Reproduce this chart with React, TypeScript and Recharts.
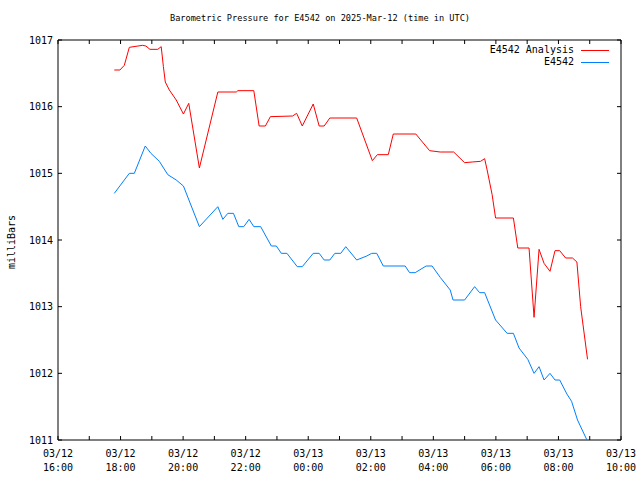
import React from "react";
import { LineChart, Line, XAxis, YAxis } from "recharts";

// Hours since 2025-03-12 00:00 UTC
const analysisHours = [
  17.8, 17.98, 18.12, 18.28, 18.7, 18.81, 18.94, 19.19, 19.3, 19.37, 19.43, 19.56, 19.78,
  20.01, 20.18, 20.52, 21.11, 21.7, 21.75, 22.26, 22.43, 22.63, 22.79, 23.5, 23.63, 23.81,
  24.16, 24.35, 24.51, 24.69, 25.55, 26.05, 26.21, 26.56, 26.72, 27.44, 27.88, 28.22, 28.65,
  29.0, 29.24, 29.51, 29.64, 29.72, 29.88, 29.99, 30.56, 30.7, 31.06, 31.22, 31.38, 31.54,
  31.73, 31.89, 32.04, 32.23, 32.45, 32.59, 32.71, 32.93,
];
const analysisMb = [
  1016.55, 1016.55, 1016.62, 1016.89, 1016.92, 1016.91, 1016.86, 1016.86, 1016.9, 1016.6,
  1016.37, 1016.25, 1016.1, 1015.89, 1016.05, 1015.08, 1016.22, 1016.22, 1016.24, 1016.24,
  1015.71, 1015.71, 1015.85, 1015.86, 1015.9, 1015.71, 1016.04, 1015.71, 1015.71, 1015.83,
  1015.83, 1015.19, 1015.28, 1015.28, 1015.59, 1015.59, 1015.34, 1015.32, 1015.32, 1015.16,
  1015.17, 1015.18, 1015.22, 1015.05, 1014.68, 1014.33, 1014.33, 1013.88, 1013.88, 1012.84,
  1013.86, 1013.65, 1013.53, 1013.84, 1013.84, 1013.73, 1013.73, 1013.67, 1013.0, 1012.21,
];

const obsHours = [
  17.8, 18.28, 18.44, 18.79, 18.97, 19.24, 19.51, 19.78, 20.01, 20.52, 21.11, 21.27, 21.43,
  21.61, 21.78, 21.94, 22.11, 22.26, 22.48, 22.82, 22.98, 23.14, 23.32, 23.65, 23.81, 24.16,
  24.35, 24.51, 24.69, 24.85, 25.04, 25.2, 25.55, 25.87, 26.03, 26.19, 26.4, 27.1, 27.24,
  27.42, 27.77, 27.96, 28.22, 28.54, 28.63, 29.0, 29.32, 29.48, 29.64, 29.99, 30.36, 30.56,
  30.74, 31.02, 31.22, 31.38, 31.54, 31.73, 31.89, 32.04, 32.27, 32.42, 32.61, 32.9,
];
const obsMb = [
  1014.7, 1015.0, 1015.0, 1015.41, 1015.3, 1015.18, 1014.98, 1014.9, 1014.81, 1014.2, 1014.5,
  1014.31, 1014.4, 1014.4, 1014.2, 1014.2, 1014.31, 1014.2, 1014.2, 1013.91, 1013.91, 1013.8,
  1013.8, 1013.6, 1013.6, 1013.8, 1013.8, 1013.7, 1013.7, 1013.8, 1013.8, 1013.9, 1013.7,
  1013.76, 1013.8, 1013.8, 1013.61, 1013.61, 1013.51, 1013.51, 1013.61, 1013.61, 1013.44,
  1013.25, 1013.1, 1013.1, 1013.3, 1013.21, 1013.21, 1012.8, 1012.6, 1012.6, 1012.38, 1012.21,
  1012.0, 1012.1, 1011.9, 1012.0, 1011.9, 1011.9, 1011.69, 1011.58, 1011.3, 1011.01,
];

const xTicks = [16, 17, 18, 19, 20, 21, 22, 23, 24, 25, 26, 27, 28, 29, 30, 31, 32, 33, 34];
const xLabelHours = [16, 18, 20, 22, 24, 26, 28, 30, 32, 34];
const xLabelDates = ["03/12", "03/12", "03/12", "03/12", "03/13", "03/13", "03/13", "03/13", "03/13", "03/13"];
const xLabelTimes = ["16:00", "18:00", "20:00", "22:00", "00:00", "02:00", "04:00", "06:00", "08:00", "10:00"];
const yTicks = [1011, 1012, 1013, 1014, 1015, 1016, 1017];

const legendNames = ["E4542 Analysis", "E4542"];

const analysisData = analysisHours.map((t, i) => ({ t, v: analysisMb[i] }));
const obsData = obsHours.map((t, i) => ({ t, v: obsMb[i] }));

const FONT = "'DejaVu Sans Mono', monospace";
const RED = "#ff0000";
const BLUE = "#0080ff";
const legendColors = [RED, BLUE];

const BottomTick = (props: any) => {
  const { x, y, payload } = props;
  const idx = xLabelHours.indexOf(payload.value);
  return (
    <g>
      <line x1={x} x2={x} y1={y} y2={y - 4} stroke="#000" />
      {idx >= 0 && (
        <text x={x} y={y} textAnchor="middle" fontFamily={FONT} fontSize={10} fill="#000">
          <tspan x={x} dy={17}>{xLabelDates[idx]}</tspan>
          <tspan x={x} dy={14}>{xLabelTimes[idx]}</tspan>
        </text>
      )}
    </g>
  );
};

const TopTick = (props: any) => {
  const { x, y } = props;
  return <line x1={x} x2={x} y1={y} y2={y + 4} stroke="#000" />;
};

const LeftTick = (props: any) => {
  const { x, y, payload } = props;
  return (
    <g>
      <line x1={x} x2={x + 4} y1={y} y2={y} stroke="#000" />
      <text x={x - 5} y={y} dy={3.5} textAnchor="end" fontFamily={FONT} fontSize={10} fill="#000">
        {payload.value}
      </text>
    </g>
  );
};

const RightTick = (props: any) => {
  const { x, y } = props;
  return <line x1={x} x2={x - 4} y1={y} y2={y} stroke="#000" />;
};

export default function App() {
  return (
    <div style={{ position: "absolute", left: 0, top: 0, width: 640, height: 480, background: "#fff" }}>
      <LineChart width={640} height={480} margin={{ top: 39, right: 18, bottom: 0, left: 0 }}>
        <XAxis
          xAxisId="b"
          dataKey="t"
          type="number"
          domain={[16, 34]}
          ticks={xTicks}
          interval={0}
          allowDataOverflow
          height={40}
          tickSize={0}
          tickMargin={0}
          tick={<BottomTick />}
          axisLine={{ stroke: "#000" }}
        />
        <XAxis
          xAxisId="top"
          orientation="top"
          dataKey="t"
          type="number"
          domain={[16, 34]}
          ticks={xTicks}
          interval={0}
          allowDataOverflow
          height={1}
          tickSize={0}
          tickMargin={0}
          tick={<TopTick />}
          axisLine={{ stroke: "#000" }}
        />
        <YAxis
          yAxisId="l"
          type="number"
          domain={[1011, 1017]}
          ticks={yTicks}
          interval={0}
          allowDataOverflow
          width={58}
          tickSize={0}
          tickMargin={0}
          tick={<LeftTick />}
          axisLine={{ stroke: "#000" }}
        />
        <YAxis
          yAxisId="r"
          orientation="right"
          type="number"
          domain={[1011, 1017]}
          ticks={yTicks}
          interval={0}
          allowDataOverflow
          width={1}
          tickSize={0}
          tickMargin={0}
          tick={<RightTick />}
          axisLine={{ stroke: "#000" }}
        />
        <Line
          xAxisId="b"
          yAxisId="l"
          data={analysisData}
          dataKey="v"
          type="linear"
          stroke={RED}
          strokeWidth={1}
          dot={false}
          isAnimationActive={false}
        />
        <Line
          xAxisId="top"
          yAxisId="r"
          data={obsData}
          dataKey="v"
          type="linear"
          stroke={BLUE}
          strokeWidth={1}
          dot={false}
          isAnimationActive={false}
        />
      </LineChart>
      <div
        style={{
          position: "absolute",
          left: 0,
          top: 13,
          width: 640,
          textAlign: "center",
          fontFamily: FONT,
          fontSize: 8.6,
          color: "#000",
        }}
      >
        Barometric Pressure for E4542 on 2025-Mar-12 (time in UTC)
      </div>
      <div
        style={{
          position: "absolute",
          left: 11,
          top: 242,
          transform: "translate(-50%, -50%) rotate(-90deg)",
          fontFamily: FONT,
          fontSize: 10,
          color: "#000",
          whiteSpace: "nowrap",
        }}
      >
        milliBars
      </div>
      <div
        style={{
          position: "absolute",
          right: 31,
          top: 44,
          fontFamily: FONT,
          fontSize: 10,
          lineHeight: "12px",
          color: "#000",
        }}
      >
        {legendNames.map((name, i) => (
          <div key={name} style={{ display: "flex", justifyContent: "flex-end", alignItems: "center", height: 12 }}>
            <span>{name}</span>
            <svg width={35} height={12} style={{ display: "block" }}>
              <line x1={7} x2={35} y1={6.5} y2={6.5} stroke={legendColors[i]} strokeWidth={1} />
            </svg>
          </div>
        ))}
      </div>
    </div>
  );
}
